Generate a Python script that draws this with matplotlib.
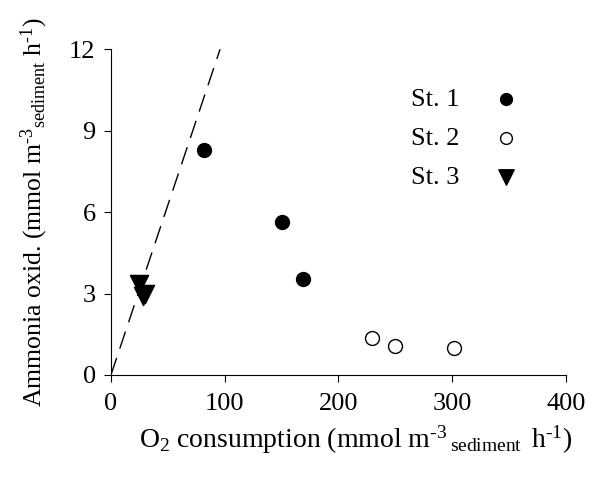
import numpy as np
import matplotlib.pyplot as plt

plt.rcParams["font.family"] = ["Liberation Serif", "DejaVu Serif"]
plt.rcParams["mathtext.fontset"] = "custom"
plt.rcParams["mathtext.rm"] = "Liberation Serif"
plt.rcParams["mathtext.it"] = "Liberation Serif:italic"

# Datos
st1_x = [82, 150, 169]
st1_y = [8.3, 5.65, 3.55]
st2_x = [230, 250, 302]
st2_y = [1.35, 1.05, 1.0]
st3_x = [25, 28, 30]
st3_y = [3.35, 2.9, 3.0]

# Línea de referencia (pendiente 1/8)
line_x = np.array([0, 96])
line_y = line_x / 8.0

fig = plt.figure(figsize=(5.9, 4.82), dpi=100)
ax = fig.add_axes([0.188, 0.222, 0.771, 0.676])

ax.plot(line_x, line_y, color="black", linestyle=(0, (13, 7)), linewidth=1)
ax.scatter(st1_x, st1_y, s=100, color="black", label="St. 1", zorder=3)
ax.scatter(st2_x, st2_y, s=100, facecolors="white", edgecolors="black",
           linewidths=1, label="St. 2", zorder=3)
ax.scatter(st3_x, st3_y, s=170, marker="v", color="black", label="St. 3", zorder=3)

ax.set_xlim(0, 400)
ax.set_ylim(0, 12)
ax.set_xticks([0, 100, 200, 300, 400])
ax.set_yticks([0, 3, 6, 9, 12])
ax.spines["top"].set_visible(False)
ax.spines["right"].set_visible(False)
ax.tick_params(direction="out", length=5, labelsize=19)
ax.tick_params(axis="x", pad=8)
ax.tick_params(axis="y", pad=6)

ax.set_xlabel(r"O$_2$ consumption (mmol m$^{\text{-3}}$$\,_{\mathrm{sediment}}\,$ h$^{\text{-1}}$)",
              fontsize=20)
ax.xaxis.set_label_coords(0.538, -0.15)
ax.set_ylabel(r"Ammonia oxid. (mmol m$^{\text{-3}}$$_{\mathrm{sediment}}$ h$^{\text{-1}}$)",
              fontsize=18.5, labelpad=14)

ax.legend(loc="upper right", bbox_to_anchor=(0.978, 0.955), frameon=False,
          markerfirst=False, fontsize=19, handletextpad=0.75, labelspacing=0.58,
          scatterpoints=1, markerscale=0.85)

fig.savefig("out.png", dpi=100)
